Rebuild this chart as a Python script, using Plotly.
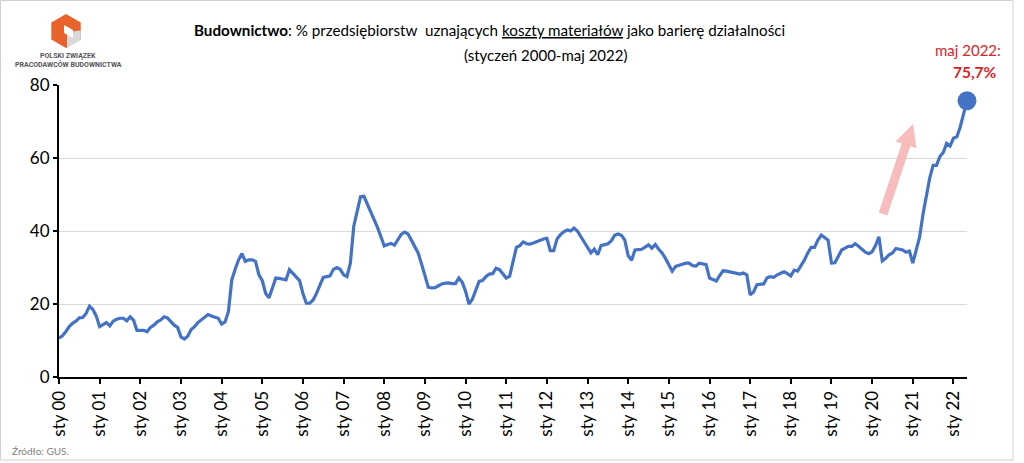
import plotly.graph_objects as go
import math

# Monthly values (%), January 2000 - May 2022
y2000 = [10.6, 11.3, 12.4, 13.8, 14.7, 15.3, 16.2, 16.3, 17.4, 19.4, 18.5, 16.7]
y2001 = [13.8, 14.4, 14.9, 14.0, 15.3, 15.8, 16.1, 16.1, 15.4, 16.5, 15.6, 12.8]
y2002 = [12.7, 12.8, 12.4, 13.6, 14.2, 15.1, 15.6, 16.5, 16.2, 15.1, 14.2, 13.6]
y2003 = [11.0, 10.4, 11.2, 13.0, 13.8, 14.9, 15.6, 16.2, 17.1, 16.7, 16.3, 16.1]
y2004 = [14.5, 15.1, 17.9, 26.6, 29.5, 32.1, 33.8, 31.7, 32.1, 32.1, 31.7, 28.0]
y2005 = [26.4, 22.9, 21.7, 24.3, 27.1, 27.0, 26.8, 26.6, 29.4, 28.4, 27.5, 26.4]
y2006 = [22.9, 20.2, 20.2, 21.1, 22.9, 25.2, 27.3, 27.5, 27.7, 29.5, 30.0, 29.5]
y2007 = [28.0, 27.5, 31.2, 41.3, 45.9, 49.4, 49.5, 47.5, 45.5, 43.0, 41.0, 38.5]
y2008 = [35.9, 36.3, 36.6, 36.1, 37.7, 39.1, 39.7, 39.2, 37.5, 35.5, 34.0, 31.0]
y2009 = [27.5, 24.6, 24.4, 24.5, 25.0, 25.5, 25.7, 25.8, 25.6, 25.6, 27.1, 26.0]
y2010 = [23.5, 20.0, 21.3, 24.0, 26.2, 26.4, 27.5, 28.2, 28.3, 29.8, 29.4, 28.3]
y2011 = [27.1, 27.6, 31.5, 35.5, 36.0, 37.0, 36.5, 36.4, 36.7, 37.1, 37.5, 37.8]
y2012 = [38.0, 34.6, 34.6, 37.8, 39.0, 39.8, 40.3, 40.0, 40.8, 40.0, 38.5, 37.0]
y2013 = [35.5, 34.0, 35.0, 33.5, 36.0, 36.2, 36.5, 37.3, 38.8, 39.2, 38.8, 37.5]
y2014 = [33.2, 32.0, 34.8, 34.9, 35.0, 35.6, 36.2, 35.3, 36.3, 35.0, 34.0, 32.5]
y2015 = [30.5, 29.0, 30.3, 30.7, 30.9, 31.2, 31.2, 30.5, 30.4, 31.2, 31.0, 30.8]
y2016 = [27.1, 26.7, 26.3, 27.8, 29.1, 29.0, 28.8, 28.4, 28.2, 28.2, 28.5, 28.0]
y2017 = [22.5, 23.3, 25.3, 25.3, 25.5, 27.2, 27.5, 27.3, 28.0, 28.4, 28.8, 28.3]
y2018 = [27.7, 29.3, 29.0, 30.5, 32.0, 34.0, 35.5, 35.5, 37.5, 38.9, 38.3, 37.5]
y2019 = [31.2, 31.3, 33.0, 34.8, 35.3, 35.8, 35.8, 36.5, 35.8, 34.9, 34.2, 33.8]
y2020 = [34.3, 36.0, 38.4, 31.8, 32.5, 33.5, 34.0, 35.2, 35.0, 34.8, 34.2, 34.5]
y2021 = [31.2, 34.5, 38.3, 44.5, 49.5, 54.5, 58.0, 58.0, 60.4, 61.5, 64.0, 63.3]
y2022 = [65.4, 65.8, 68.5, 72.0, 75.7]

years = [y2000, y2001, y2002, y2003, y2004, y2005, y2006, y2007, y2008, y2009,
         y2010, y2011, y2012, y2013, y2014, y2015, y2016, y2017, y2018, y2019,
         y2020, y2021, y2022]
values = [v for yr in years for v in yr]
months = list(range(len(values)))

tick_labels = ["sty %02d" % k for k in range(0, 23)]
tick_positions = [12 * k for k in range(0, 23)]
y_ticks = [0, 20, 40, 60, 80]

last_label_top = "maj 2022:"
last_label_value = "75,7%"

LINE = "#4472C4"
RED = "#DC2328"
FONT = "Lato, 'Open Sans', sans-serif"

# figure geometry in pixels (for decorations)
W, H = 1024, 463
L, R, T, B = 59, 57, 85, 86
PW, PH = W - L - R, H - T - B


def px(x):
    return (x - L) / PW


def py(y):
    return (H - B - y) / PH


def poly(points):
    return "M " + " L ".join("%.5f,%.5f" % (px(a), py(b)) for a, b in points) + " Z"


fig = go.Figure()
fig.add_trace(go.Scatter(
    x=months, y=values, mode="lines",
    line=dict(color=LINE, width=3.2), hoverinfo="skip", showlegend=False))
fig.add_trace(go.Scatter(
    x=[months[-1]], y=[values[-1]], mode="markers",
    marker=dict(color=LINE, size=19), cliponaxis=False,
    hoverinfo="skip", showlegend=False))

shapes = []
# outer border
shapes.append(dict(type="rect", xref="paper", yref="paper",
                   x0=px(0.5), x1=px(1013), y0=py(460), y1=py(0.5),
                   line=dict(color="#d0d0d0", width=1), layer="below"))

# pink arrow (decoration)
tail = (883, 214)
tip = (913, 124)
dx, dy = tip[0] - tail[0], tip[1] - tail[1]
ln = math.hypot(dx, dy)
ux, uy = dx / ln, dy / ln
nx, ny = -uy, ux
hw, hh, hl = 4.5, 11, 22
bx, by = tip[0] - hl * ux, tip[1] - hl * uy
pts = [
    (tail[0] + hw * nx, tail[1] + hw * ny),
    (bx + hw * nx, by + hw * ny),
    (bx + hh * nx, by + hh * ny),
    tip,
    (bx - hh * nx, by - hh * ny),
    (bx - hw * nx, by - hw * ny),
    (tail[0] - hw * nx, tail[1] - hw * ny),
]
shapes.append(dict(type="path", xref="paper", yref="paper", path=poly(pts),
                   fillcolor="rgba(246,176,176,0.85)", line=dict(width=0)))

# logo cube (decoration)
cx, cy, r = 66, 31, 17
hexpts = []
for k in range(6):
    a = math.radians(90 + 60 * k)
    hexpts.append((cx + r * math.cos(a), cy - r * math.sin(a)))
shapes.append(dict(type="path", xref="paper", yref="paper", path=poly(hexpts),
                   fillcolor="#E8632B", line=dict(width=0)))
face = [(cx + 1, cy + 1), (cx + r * 0.866, cy - r * 0.5 + 8), (cx + r * 0.866, cy + r * 0.5),
        (cx + 1, cy + r)]
shapes.append(dict(type="path", xref="paper", yref="paper", path=poly(face),
                   fillcolor="#d9d9d9", line=dict(width=0)))
notch = [(cx - 2, cy - 6), (cx + 7, cy - 1), (cx + 7, cy + 7), (cx - 2, cy + 2)]
shapes.append(dict(type="path", xref="paper", yref="paper", path=poly(notch),
                   fillcolor="white", line=dict(width=0)))

annotations = [
    dict(text="<b>Budownictwo</b>: % przedsiębiorstw  uznających <u>koszty materiałów</u> jako barierę działalności",
         xref="paper", yref="paper", x=px(489), y=py(30), showarrow=False,
         font=dict(family=FONT, size=15.2, color="#000"), xanchor="center", yanchor="middle"),
    dict(text="(styczeń 2000-maj 2022)",
         xref="paper", yref="paper", x=px(545), y=py(55), showarrow=False,
         font=dict(family=FONT, size=15, color="#000"), xanchor="center", yanchor="middle"),
    dict(text=last_label_top, xref="paper", yref="paper", x=px(968), y=py(50),
         showarrow=False, font=dict(family=FONT, size=15, color=RED),
         xanchor="center", yanchor="middle"),
    dict(text="<b>" + last_label_value + "</b>", xref="paper", yref="paper", x=px(975), y=py(72),
         showarrow=False, font=dict(family=FONT, size=15.5, color=RED),
         xanchor="center", yanchor="middle"),
    dict(text="<b>POLSKI ZWIĄZEK</b>", xref="paper", yref="paper", x=px(68), y=py(56),
         showarrow=False, font=dict(family="Roboto, sans-serif", size=7, color="#555"),
         xanchor="center", yanchor="middle"),
    dict(text="<b>PRACODAWCÓW BUDOWNICTWA</b>", xref="paper", yref="paper", x=px(68), y=py(64),
         showarrow=False, font=dict(family="Roboto, sans-serif", size=7, color="#555"),
         xanchor="center", yanchor="middle"),
    dict(text="Źródło: GUS.", xref="paper", yref="paper", x=px(10), y=py(451),
         showarrow=False, font=dict(family=FONT, size=10, color="#808080"),
         xanchor="left", yanchor="middle"),
]

fig.update_layout(
    width=W, height=H,
    margin=dict(l=L, r=R, t=T, b=B),
    paper_bgcolor="white", plot_bgcolor="white",
    shapes=shapes, annotations=annotations,
    font=dict(family=FONT, color="#000"),
    xaxis=dict(range=[0, len(values) - 1], tickmode="array",
               tickvals=tick_positions, ticktext=tick_labels, tickangle=-90,
               showgrid=False, zeroline=False, showline=True, linecolor="#000",
               linewidth=2, ticks="outside", ticklen=5, tickwidth=1.5, tickcolor="#000",
               tickfont=dict(family=FONT, size=17, color="#000")),
    yaxis=dict(range=[0, 80], tickmode="array", tickvals=y_ticks,
               showgrid=True, gridcolor="#d9d9d9", gridwidth=1, zeroline=False,
               showline=True, linecolor="#000", linewidth=2,
               ticks="outside", ticklen=4, tickwidth=1.5, tickcolor="#000",
               tickfont=dict(family=FONT, size=17, color="#000")),
)

fig.write_html("out.html")
